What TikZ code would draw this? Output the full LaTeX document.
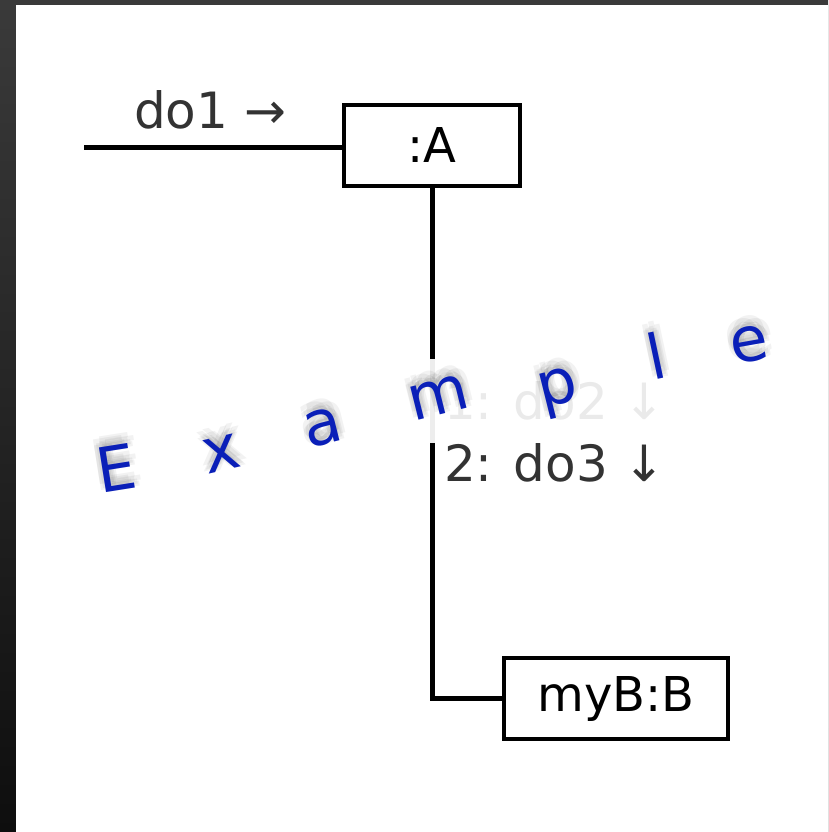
\documentclass[tikz,border=0pt]{standalone}
\usepackage{fontspec}
\setmainfont{DejaVu Sans}
\usetikzlibrary{positioning}
\definecolor{wmblue}{HTML}{0A1FB8}
\definecolor{frametop}{HTML}{3A3A3A}
\definecolor{framebot}{HTML}{0E0E0E}

\begin{document}
\begin{tikzpicture}[x=1pt, y=1pt,
    obj/.style={draw, line width=3.5pt, minimum width=176, minimum height=81, inner sep=0pt, font=\fontsize{48}{56}\selectfont},
    link/.style={line width=5pt},
    msg/.style={font=\fontsize{50}{58}\selectfont, text=black!80, inner sep=0pt},
    wm/.style={font=\fontsize{62}{70}\selectfont, text=wmblue, inner sep=0pt, anchor=base},
]
  \useasboundingbox (0,0) rectangle (828,-832);
  % Frame and sheet
  \shade[top color=frametop, bottom color=framebot] (0,0) rectangle (828,-832);
  \fill[white] (16,-5) rectangle (828,-832);

  % Objects
  \node[obj] (objA) at (432,-145.5) {:A};
  \node[obj, minimum width=224] (objB) at (616,-698.5) {myB:B};

  % Links
  \coordinate (start) at (84,-147);
  \draw[link] (start) -- (start -| objA.west);
  \draw[link] (objA.south) |- (objB.west);

  % Messages
  \node[msg] (msg1) at (210,-110) {do1 →};
  \node[msg, fill=white, fill opacity=0.93, text opacity=0.1, inner sep=23pt] (msg2) at (555,-401) {1: do2 ↓};
  \node[msg, anchor=base] (msg3) at (555,-481) {2: do3 ↓};

  % Watermark
  \foreach \ch/\x/\y/\r in {E/120/-490/9, x/225/-470/13, a/327/-444/14, m/443/-414/14, p/562/-404/14, l/661/-379/12, e/752/-361/10} {
    \foreach \dx/\dy in {-6/8, 0/11, 6/8, -3/4, 3/4, 0/6, -5/2, 5/2} {
      \node[wm, text=black, text opacity=0.05, rotate=\r] at (\x+\dx,\y+\dy) {\ch};
    }
    \node[wm, rotate=\r] (wm-\ch) at (\x,\y) {\ch};
  }
\end{tikzpicture}
\end{document}
